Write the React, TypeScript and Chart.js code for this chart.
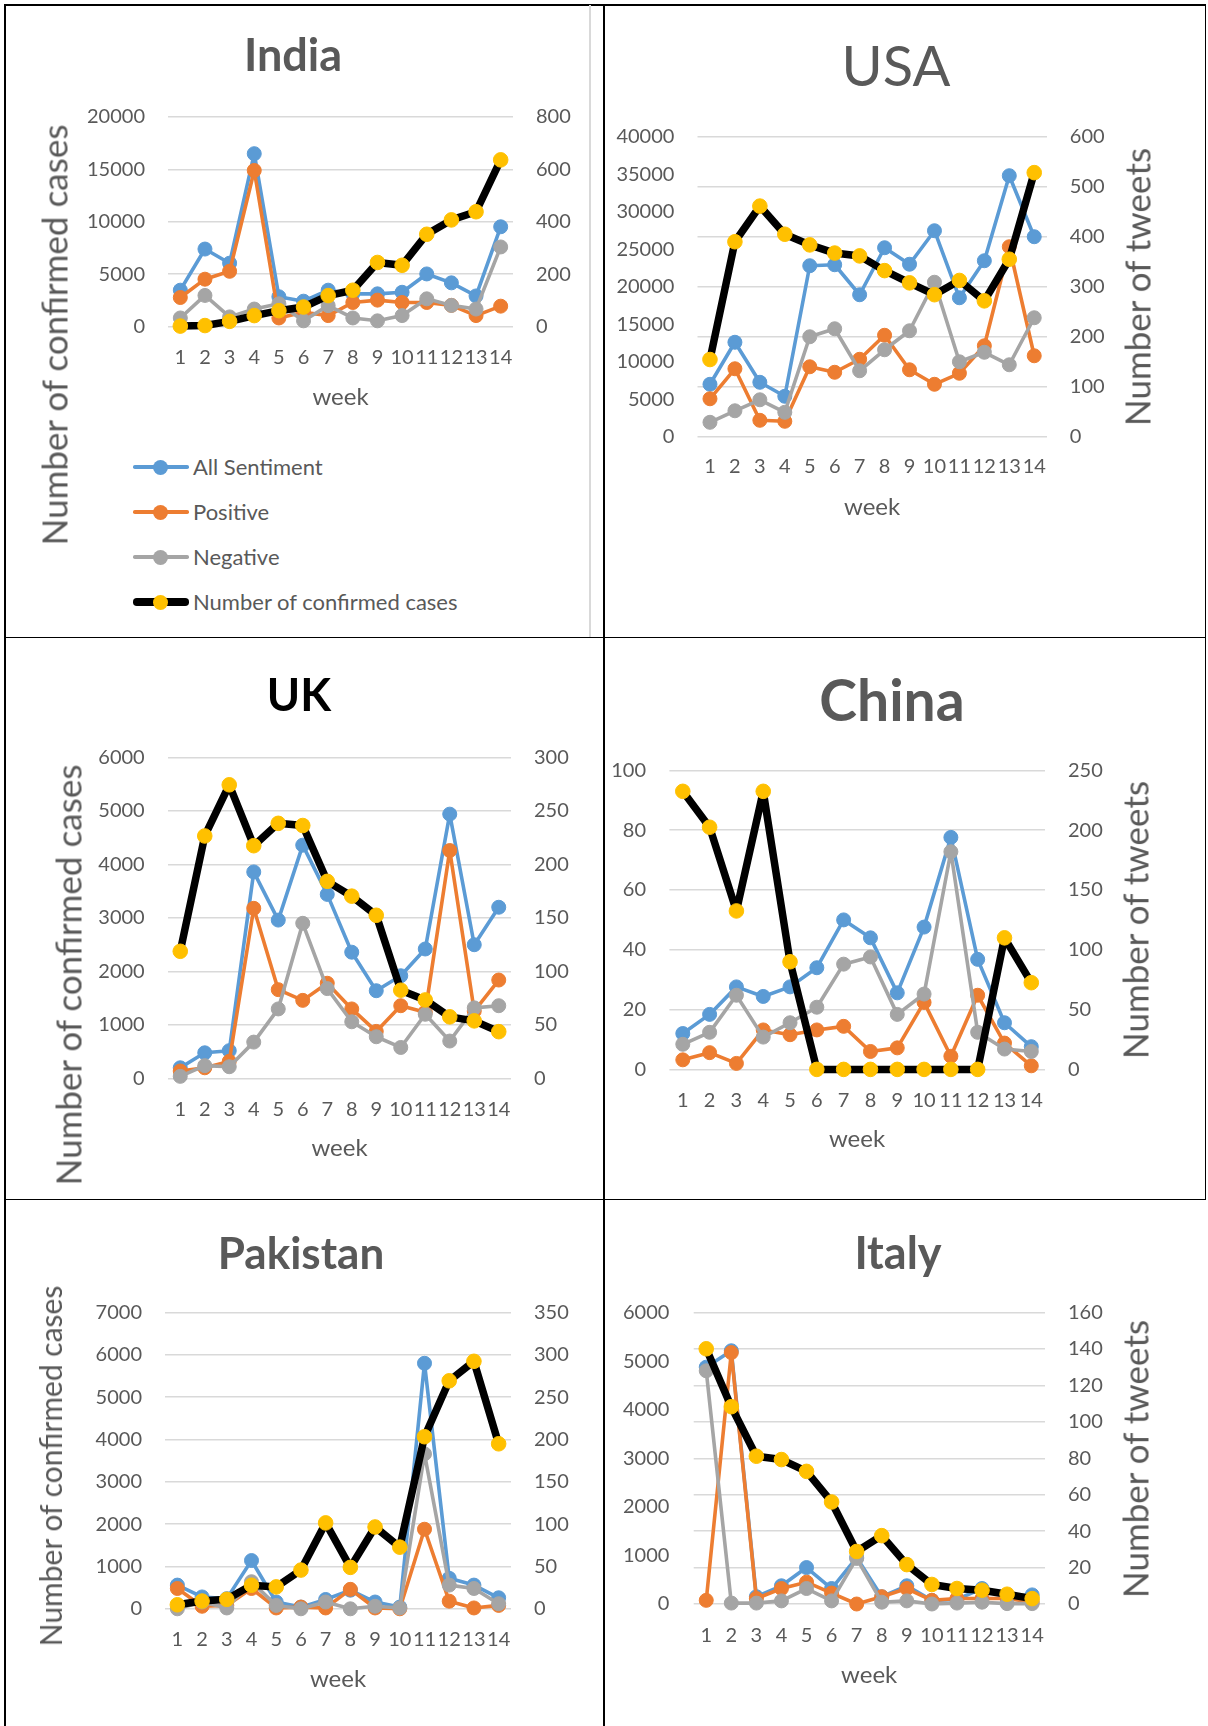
import React, { useEffect, useRef } from "react";
import { Chart, registerables } from "chart.js";

Chart.register(...registerables);
Chart.defaults.font.family = "Lato";

// ---------- data ----------
const weeks = ["1", "2", "3", "4", "5", "6", "7", "8", "9", "10", "11", "12", "13", "14"];

const indiaAll = [139, 296, 242, 660, 114, 97, 139, 125, 125, 131, 201, 167, 117, 381];
const indiaPos = [111, 181, 211, 596, 33, 55, 42, 92, 101, 92, 92, 81, 42, 78];
const indiaNeg = [33, 119, 37, 67, 87, 22, 80, 33, 22, 42, 106, 81, 67, 304];
const indiaCases = [50, 100, 500, 1050, 1520, 1870, 2960, 3470, 6120, 5850, 8810, 10180, 10960, 15910];

const usaAll = [105, 189, 109, 81, 342, 344, 284, 378, 345, 412, 278, 352, 522, 400];
const usaPos = [76, 136, 33, 31, 140, 129, 155, 203, 134, 105, 127, 182, 380, 162];
const usaNeg = [29, 52, 74, 49, 200, 216, 132, 174, 212, 309, 150, 169, 144, 238];
const usaCases = [10300, 26000, 30750, 27000, 25580, 24490, 24110, 22150, 20520, 18940, 20840, 18120, 23670, 35210];

const ukAll = [10, 24, 26, 193, 148, 218, 172, 118, 82, 96, 121, 247, 125, 160];
const ukPos = [7, 10, 16, 159, 83, 73, 89, 65, 44, 68, 62, 213, 63, 92];
const ukNeg = [2, 12, 11, 34, 65, 145, 84, 53, 39, 29, 60, 35, 66, 68];
const ukCases = [2377, 4532, 5488, 4350, 4768, 4727, 3684, 3407, 3050, 1650, 1468, 1152, 1077, 875];

const chinaAll = [30, 46, 69, 61, 69, 85, 125, 110, 64, 119, 194, 92, 39, 19];
const chinaPos = [8, 14, 5, 33, 29, 33, 36, 15, 18, 56, 11, 62, 22, 3];
const chinaNeg = [21, 31, 62, 27, 39, 52, 88, 94, 46, 63, 182, 31, 17, 15];
const chinaCases = [93, 81, 53, 93, 36, 0, 0, 0, 0, 0, 0, 0, 44, 29];

const pakAll = [28, 14, 12, 57, 8, 2, 11, 22, 8, 2, 290, 36, 28, 13];
const pakPos = [24, 3, 4, 24, 1, 2, 1, 23, 1, 0, 94, 9, 1, 4];
const pakNeg = [0, 8, 1, 32, 4, 0, 8, 0, 3, 1, 183, 28, 24, 6];
const pakCases = [95, 183, 223, 557, 517, 915, 2029, 979, 1933, 1456, 4065, 5386, 5847, 3898];

const italyAll = [130, 139, 4, 10, 20, 8.5, 25.5, 4, 10, 2, 2.5, 8.5, 4, 5];
const italyPos = [2, 138, 3, 8.5, 12, 6, 0, 4, 8.5, 2, 3, 3, 3, 1];
const italyNeg = [128, 0.5, 0.5, 1.7, 8.5, 1.7, 25, 1, 1.7, 0, 0.5, 1, 0.2, 0.2];
const italyCases = [5253, 4061, 3042, 2973, 2730, 2100, 1081, 1407, 811, 402, 319, 284, 201, 111];

const seriesNames = ["All Sentiment", "Positive", "Negative", "Number of confirmed cases"];

// ---------- styles ----------
const BLUE = "#5B9BD5";
const ORANGE = "#ED7D31";
const GREY = "#A5A5A5";
const GOLD = "#FFC000";
const TEXT = "#595959";

type Spec = {
  key: string;
  x0: number; y0: number; w: number; h: number;
  L: number; R: number; T: number; B: number;
  leftTickRight: number; rightTickLeft: number; xTickY: number; weekY: number;
  yMax: number; yStep: number; y1Max: number; y1Step: number;
  cases: number[]; all: number[]; pos: number[]; neg: number[];
};

const specs: Spec[] = [
  { key: "india", x0: 5, y0: 5, w: 599, h: 422, L: 168, R: 513, T: 117, B: 326.6,
    leftTickRight: 145, rightTickLeft: 536, xTickY: 358, weekY: 397,
    yMax: 20000, yStep: 5000, y1Max: 800, y1Step: 200,
    cases: indiaCases, all: indiaAll, pos: indiaPos, neg: indiaNeg },
  { key: "usa", x0: 606, y0: 5, w: 598, h: 532, L: 697.5, R: 1046.7, T: 136.7, B: 436.8,
    leftTickRight: 674.4, rightTickLeft: 1069.8, xTickY: 467, weekY: 507,
    yMax: 40000, yStep: 5000, y1Max: 600, y1Step: 100,
    cases: usaCases, all: usaAll, pos: usaPos, neg: usaNeg },
  { key: "uk", x0: 5, y0: 639, w: 599, h: 539, L: 168, R: 511, T: 757.4, B: 1078.5,
    leftTickRight: 144.7, rightTickLeft: 534, xTickY: 1109.8, weekY: 1148,
    yMax: 6000, yStep: 1000, y1Max: 300, y1Step: 50,
    cases: ukCases, all: ukAll, pos: ukPos, neg: ukNeg },
  { key: "china", x0: 606, y0: 639, w: 598, h: 531, L: 669.4, R: 1044.7, T: 770.4, B: 1069.4,
    leftTickRight: 646, rightTickLeft: 1068, xTickY: 1100.8, weekY: 1139.7,
    yMax: 100, yStep: 20, y1Max: 250, y1Step: 50,
    cases: chinaCases, all: chinaAll, pos: chinaPos, neg: chinaNeg },
  { key: "pakistan", x0: 5, y0: 1201, w: 599, h: 508, L: 165, R: 511, T: 1312.5, B: 1608.8,
    leftTickRight: 142, rightTickLeft: 534, xTickY: 1639.8, weekY: 1678.8,
    yMax: 7000, yStep: 1000, y1Max: 350, y1Step: 50,
    cases: pakCases, all: pakAll, pos: pakPos, neg: pakNeg },
  { key: "italy", x0: 606, y0: 1201, w: 598, h: 504, L: 693.7, R: 1044.7, T: 1312.5, B: 1604,
    leftTickRight: 669.4, rightTickLeft: 1068, xTickY: 1635.7, weekY: 1675,
    yMax: 6000, yStep: 1000, y1Max: 160, y1Step: 20,
    cases: italyCases, all: italyAll, pos: italyPos, neg: italyNeg },
];

function sentimentSet(label: string, data: number[], color: string, order: number) {
  return {
    label, data, yAxisID: "y1", order,
    borderColor: color, backgroundColor: color, borderWidth: 3.6,
    pointRadius: 7, pointHoverRadius: 7, pointBorderWidth: 1,
    pointBackgroundColor: color, pointBorderColor: color,
    tension: 0, borderJoinStyle: "round", borderCapStyle: "round",
    fill: false, clip: false,
  };
}

function casesSet(data: number[]) {
  return {
    label: seriesNames[3], data, yAxisID: "y", order: 0,
    borderColor: "#000000", backgroundColor: GOLD, borderWidth: 7.5,
    pointRadius: 7.3, pointHoverRadius: 7.3, pointBorderWidth: 1,
    pointBackgroundColor: GOLD, pointBorderColor: GOLD,
    tension: 0, borderJoinStyle: "round", borderCapStyle: "round",
    fill: false, clip: false,
  };
}

function Panel({ s }: { s: Spec }) {
  const ref = useRef<HTMLCanvasElement>(null);
  useEffect(() => {
    const tickFont = { size: 20, family: "Lato" };
    const chart = new Chart(ref.current as HTMLCanvasElement, {
      type: "line",
      data: {
        labels: weeks,
        datasets: [
          sentimentSet(seriesNames[0], s.all, BLUE, 4),
          sentimentSet(seriesNames[1], s.pos, ORANGE, 3),
          sentimentSet(seriesNames[2], s.neg, GREY, 2),
          casesSet(s.cases),
        ] as any,
      },
      options: {
        responsive: false,
        animation: false,
        devicePixelRatio: 1,
        events: [],
        layout: { padding: { top: s.T - s.y0, left: 0, right: 0, bottom: 0 } },
        plugins: { legend: { display: false }, tooltip: { enabled: false }, title: { display: false } },
        scales: {
          x: {
            type: "category",
            offset: true,
            grid: { display: false, drawTicks: false, tickLength: 0 },
            border: { display: false },
            ticks: {
              autoSkip: false, maxRotation: 0, minRotation: 0,
              padding: s.xTickY - s.B - 12, color: TEXT, font: tickFont,
            },
            title: {
              display: true, text: "week", color: TEXT,
              font: { size: 24, family: "Lato" },
              padding: { top: 0, bottom: s.y0 + s.h - s.weekY - 14.4 },
            },
            afterFit: (sc: any) => { sc.height = s.y0 + s.h - s.B; },
          },
          y: {
            position: "left", min: 0, max: s.yMax,
            grid: { display: false, drawTicks: false, tickLength: 0 },
            border: { display: false },
            ticks: {
              stepSize: s.yStep, padding: s.L - s.leftTickRight, color: TEXT, font: tickFont,
              callback: (v: any) => String(v),
            },
            afterFit: (sc: any) => { sc.width = s.L - s.x0; },
          },
          y1: {
            position: "right", min: 0, max: s.y1Max,
            grid: { display: true, color: "#D9D9D9", lineWidth: 1.5, drawTicks: false, tickLength: 0 },
            border: { display: false },
            ticks: {
              stepSize: s.y1Step, padding: s.rightTickLeft - s.R, color: TEXT, font: tickFont,
              callback: (v: any) => String(v),
            },
            afterFit: (sc: any) => { sc.width = s.x0 + s.w - s.R; },
          },
        },
      } as any,
    });
    return () => chart.destroy();
  }, [s]);
  return (
    <canvas
      ref={ref}
      width={s.w}
      height={s.h}
      style={{ position: "absolute", left: s.x0, top: s.y0, width: s.w, height: s.h }}
    />
  );
}

const titles = [
  { text: "India", x: 293, y: 54, size: 45, bold: true, color: TEXT },
  { text: "USA", x: 896, y: 65, size: 56, bold: false, color: TEXT },
  { text: "UK", x: 299, y: 694, size: 45, bold: true, color: "#000000" },
  { text: "China", x: 892, y: 699, size: 57, bold: true, color: TEXT },
  { text: "Pakistan", x: 301, y: 1252, size: 44, bold: true, color: TEXT },
  { text: "Italy", x: 898, y: 1252, size: 45, bold: true, color: TEXT },
];

const axisTitles = [
  { text: "Number of confirmed cases", x: 54, y: 335, size: 35 },
  { text: "Number of tweets", x: 1137, y: 287, size: 35 },
  { text: "Number of confirmed cases", x: 67.5, y: 975, size: 35 },
  { text: "Number of tweets", x: 1135.4, y: 920, size: 35 },
  { text: "Number of confirmed cases", x: 50, y: 1466, size: 30 },
  { text: "Number of tweets", x: 1135.4, y: 1459, size: 35 },
];

const legendRows = [
  { name: seriesNames[0], line: BLUE, dot: BLUE, thick: 3.6, y: 467 },
  { name: seriesNames[1], line: ORANGE, dot: ORANGE, thick: 3.6, y: 512 },
  { name: seriesNames[2], line: GREY, dot: GREY, thick: 3.6, y: 557 },
  { name: seriesNames[3], line: "#000000", dot: GOLD, thick: 7.5, y: 602 },
];

const lines = [
  { left: 4, top: 4, width: 1202, height: 1.5, color: "#000" },
  { left: 4, top: 4, width: 2, height: 1722, color: "#000" },
  { left: 603, top: 4, width: 2, height: 1722, color: "#000" },
  { left: 4, top: 636.5, width: 1202, height: 1.5, color: "#000" },
  { left: 4, top: 1198.5, width: 1202, height: 1.5, color: "#000" },
  { left: 1204.5, top: 4, width: 1.5, height: 1196, color: "#000" },
  { left: 589, top: 5, width: 2, height: 632, color: "#D9D9D9" },
];

export default function App() {
  return (
    <div style={{ position: "absolute", left: 0, top: 0, width: 1208, height: 1726, background: "#fff", overflow: "hidden", fontFamily: "Lato" }}>
      {specs.map((s) => <Panel key={s.key} s={s} />)}
      {lines.map((l, i) => (
        <div key={"l" + i} style={{ position: "absolute", left: l.left, top: l.top, width: l.width, height: l.height, background: l.color }} />
      ))}
      {titles.map((t) => (
        <div key={t.text} style={{
          position: "absolute", left: t.x, top: t.y, transform: "translate(-50%, -50%)",
          fontSize: t.size, fontWeight: t.bold ? 700 : 400, color: t.color, lineHeight: 1, whiteSpace: "nowrap",
        }}>{t.text}</div>
      ))}
      {axisTitles.map((t, i) => (
        <div key={"a" + i} style={{
          position: "absolute", left: t.x, top: t.y, transform: "translate(-50%, -50%) rotate(-90deg)",
          fontSize: t.size, color: TEXT, lineHeight: 1, whiteSpace: "nowrap",
        }}>{t.text}</div>
      ))}
      {legendRows.map((r) => (
        <div key={r.name}>
          <div style={{ position: "absolute", left: 133, top: r.y - r.thick / 2, width: 56, height: r.thick, background: r.line, borderRadius: r.thick / 2 }} />
          <div style={{ position: "absolute", left: 160 - 7.5, top: r.y - 7.5, width: 15, height: 15, borderRadius: 7.5, background: r.dot }} />
          <div style={{ position: "absolute", left: 193, top: r.y, transform: "translateY(-50%)", fontSize: 22, color: TEXT, lineHeight: 1, whiteSpace: "nowrap" }}>{r.name}</div>
        </div>
      ))}
    </div>
  );
}
